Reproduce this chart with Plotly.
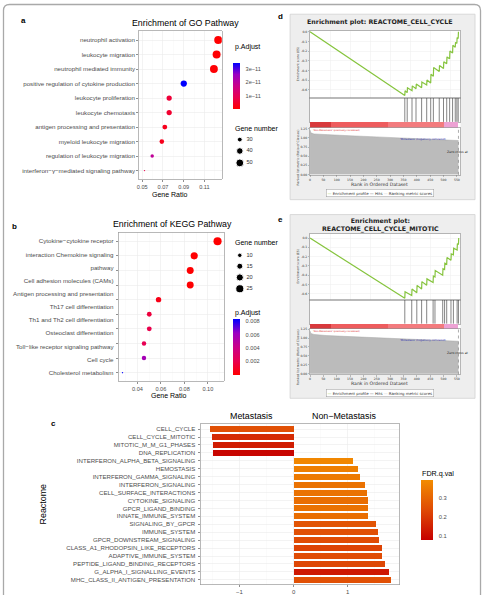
import numpy as np
import plotly.graph_objects as go

W, H = 484, 595
def fx(x): return x / W
def fy(y): return 1 - y / H

ARIAL = "Liberation Sans, Arial, sans-serif"
DJV = "DejaVu Sans, sans-serif"

# ---------------- Panel a : GO ----------------
go_terms = ["neutrophil activation", "leukocyte migration", "neutrophil mediated immunity",
            "positive regulation of cytokine production", "leukocyte proliferation",
            "leukocyte chemotaxis", "antigen processing and presentation",
            "myeloid leukocyte migration", "regulation of leukocyte migration",
            "interferon−γ−mediated signaling pathway"]
go_ratio = [0.1234, 0.1218, 0.1192, 0.0901, 0.0760, 0.0760, 0.0718, 0.0689, 0.0596, 0.0522]
go_count = [52, 51, 50, 38, 32, 32, 30, 29, 25, 22]
go_padj = [1e-13, 2e-13, 5e-13, 3.4e-11, 6e-12, 5e-12, 3e-12, 3e-12, 1.9e-11, 8e-12]
go_size_keys = [30, 40, 50]
go_padj_ticks = [1e-11, 2e-11, 3e-11]
go_padj_ticktext = ["1e−11", "2e−11", "3e−11"]
go_ratio_ticks = [0.05, 0.07, 0.09, 0.11]

# ---------------- Panel b : KEGG ----------------
kegg_terms = ["Cytokine-cytokine receptor interaction", "Chemokine signaling pathway",
              "Cell adhesion molecules (CAMs)", "Antigen processing and presentation",
              "Th17 cell differentiation", "Th1 and Th2 cell differentiation",
              "Osteoclast differentiation", "Toll-like receptor signaling pathway",
              "Cell cycle", "Cholesterol metabolism"]
kegg_labels = ["Cytokine−cytokine receptor", "interaction Chemokine signaling", "pathway",
               "Cell adhesion molecules (CAMs)", "Antigen processing and presentation",
               "Th17 cell differentiation", "Th1 and Th2 cell differentiation",
               "Osteoclast differentiation", "Toll−like receptor signaling pathway",
               "Cell cycle", "Cholesterol metabolism"]
kegg_ratio = [0.1083, 0.0884, 0.0850, 0.0850, 0.0580, 0.0501, 0.0501, 0.0456, 0.0456, 0.0273]
kegg_count = [25, 20, 19, 19, 13, 11, 11, 10, 10, 6]
kegg_padj = [2e-6, 4e-5, 5e-5, 6e-5, 6e-4, 1.6e-3, 2.0e-3, 2.2e-3, 5.8e-3, 8.4e-3]
kegg_size_keys = [10, 15, 20, 25]
kegg_padj_ticks = [0.002, 0.004, 0.006, 0.008]
kegg_ratio_ticks = [0.04, 0.06, 0.08, 0.10]

# ---------------- Panel c : Reactome GSEA ----------------
reactome_terms = ["CELL_CYCLE", "CELL_CYCLE_MITOTIC", "MITOTIC_M_M_G1_PHASES", "DNA_REPLICATION",
                  "INTERFERON_ALPHA_BETA_SIGNALING", "HEMOSTASIS", "INTERFERON_GAMMA_SIGNALING",
                  "INTERFERON_SIGNALING", "CELL_SURFACE_INTERACTIONS", "CYTOKINE_SIGNALING",
                  "GPCR_LIGAND_BINDING", "INNATE_IMMUNE_SYSTEM", "SIGNALING_BY_GPCR",
                  "IMMUNE_SYSTEM", "GPCR_DOWNSTREAM_SIGNALING", "CLASS_A1_RHODOPSIN_LIKE_RECEPTORS",
                  "ADAPTIVE_IMMUNE_SYSTEM", "PEPTIDE_LIGAND_BINDING_RECEPTORS",
                  "G_ALPHA_I_SIGNALLING_EVENTS", "MHC_CLASS_II_ANTIGEN_PRESENTATION"]
reactome_nes = [-1.54, -1.51, -1.49, -1.49, 1.09, 1.18, 1.23, 1.32, 1.35, 1.37,
                1.38, 1.38, 1.52, 1.55, 1.58, 1.64, 1.64, 1.68, 1.77, 1.79]
reactome_fdr = [0.25, 0.17, 0.14, 0.09, 0.38, 0.36, 0.35, 0.33, 0.33, 0.32,
                0.33, 0.32, 0.26, 0.25, 0.24, 0.22, 0.24, 0.23, 0.13, 0.25]
nes_ticks = [-1, 0, 1]
nes_ticktext = ["−1", "0", "1"]
fdr_ticks = [0.1, 0.2, 0.3]

# ---------------- Panel d : REACTOME_CELL_CYCLE enrichment plot ----------------
d_es_rank = [0, 355, 356, 364, 365, 382, 383, 397, 398, 418, 419, 437, 438, 452, 453, 462, 463,
             484, 485, 500, 501, 512, 513, 523, 524, 534, 535, 544, 545, 550, 551, 555, 556]
d_es = [0.0, -0.66, -0.61, -0.63, -0.58, -0.61, -0.56, -0.59, -0.54, -0.58, -0.52, -0.55, -0.50,
        -0.53, -0.44, -0.46, -0.37, -0.41, -0.35, -0.38, -0.31, -0.33, -0.26, -0.28, -0.20,
        -0.22, -0.14, -0.16, -0.11, -0.12, -0.06, -0.07, 0.0]
d_hits = [355, 364, 382, 397, 418, 437, 452, 462, 484, 500, 512, 523, 534, 544, 550, 555]
d_metric_rank = [0, 3, 15, 60, 150, 250, 350, 450, 520, 556]
d_metric = [1.22, 1.14, 1.11, 1.09, 1.06, 1.03, 1.00, 0.97, 0.95, 0.93]
d_seg_start = [0, 78, 292, 500]
d_seg_end = [78, 292, 500, 556]
d_zero_cross = 556

# ---------------- Panel e : REACTOME_CELL_CYCLE_MITOTIC enrichment plot ----------------
e_es_rank = [0, 355, 356, 381, 382, 400, 401, 418, 419, 437, 438, 461, 462, 468, 469, 497, 498,
             504, 505, 512, 513, 528, 529, 537, 538, 551, 552, 556, 557]
e_es = [0.0, -0.65, -0.58, -0.62, -0.55, -0.59, -0.51, -0.55, -0.47, -0.51, -0.44, -0.48, -0.41,
        -0.42, -0.35, -0.40, -0.33, -0.34, -0.27, -0.28, -0.21, -0.24, -0.17, -0.18, -0.11,
        -0.13, -0.06, -0.07, 0.0]
e_hits = [355, 381, 400, 418, 437, 461, 468, 497, 504, 512, 528, 537, 551, 556]
e_metric_rank = [0, 3, 15, 60, 150, 250, 350, 450, 520, 556]
e_metric = [1.20, 1.13, 1.10, 1.07, 1.04, 1.01, 0.98, 0.95, 0.93, 0.91]
e_seg_start = [0, 78, 292, 500]
e_seg_end = [78, 292, 500, 556]
e_zero_cross = 556

seg_colors = ["#D8393C", "#EE5C5E", "#F37B7E", "#EDA2D4"]
es_ticks = [0.0, -0.1, -0.2, -0.3, -0.4, -0.5, -0.6]
rank_ticks = list(range(0, 551, 50))
metric_ticks = [0.0, 0.25, 0.5, 0.75, 1.0, 1.25]

# ---------------- styles ----------------
PADJ_SCALE = [[0, "#FF0000"], [0.25, "#E80050"], [0.5, "#CA0089"], [0.75, "#9A00C3"], [1, "#0000FF"]]
FDR_SCALE = [[0, "#C60000"], [0.5, "#DF4A05"], [1, "#F28C00"]]
LAB = 6.2  # ggplot axis text size in px


def size_scale(vals, vmin, vmax):
    return [1.35 * (1 + 5 * np.sqrt((v - vmin) / (vmax - vmin))) for v in vals]


def gg_axis(**kw):
    d = dict(showline=True, mirror=True, linecolor="#9a9a9a", linewidth=0.7,
             ticks="outside", ticklen=2, tickwidth=0.6, tickcolor="#444",
             tickfont=dict(family=ARIAL, size=LAB, color="#4D4D4D"),
             showgrid=True, gridcolor="#EBEBEB", gridwidth=0.6, zeroline=False, fixedrange=True)
    d.update(kw)
    return d


fig = go.Figure()
layout = {}
annotations = []
shapes = []


def ann(text, x, y, size, family=ARIAL, color="#000", xanchor="center", yanchor="middle",
        textangle=0, **kw):
    a = dict(text=text, x=fx(x), y=fy(y), xref="paper", yref="paper", showarrow=False,
             font=dict(family=family, size=size, color=color), xanchor=xanchor,
             yanchor=yanchor, textangle=textangle)
    a.update(kw)
    annotations.append(a)


# ===== Panel a =====
go_sizes = size_scale(go_count, min(go_count), max(go_count))
fig.add_trace(go.Scatter(
    x=go_ratio, y=go_terms, xaxis="x", yaxis="y", mode="markers", hoverinfo="skip",
    showlegend=False,
    marker=dict(size=go_sizes, color=go_padj, colorscale=PADJ_SCALE, cmin=0, cmax=3.4e-11,
                opacity=1, line=dict(width=0),
                colorbar=dict(x=fx(232.3), xanchor="left", xpad=0, y=fy(85), yanchor="middle",
                              ypad=0, len=46.6 / H, lenmode="fraction", thickness=7,
                              thicknessmode="pixels", outlinewidth=0,
                              tickvals=go_padj_ticks, ticktext=go_padj_ticktext,
                              ticks="outside", ticklen=5, tickcolor="rgba(0,0,0,0)",
                              tickfont=dict(family=ARIAL, size=5.6, color="#4D4D4D")))))
layout["xaxis"] = gg_axis(domain=[fx(137.5), fx(220.7)], anchor="y", range=[0.0468, 0.1268],
                          tickvals=go_ratio_ticks, ticktext=[f"{v:.2f}" for v in go_ratio_ticks],
                          tickfont=dict(family=ARIAL, size=5.6, color="#4D4D4D"),
                          minor=dict(dtick=0.02, tick0=0.06, showgrid=True, gridcolor="#F4F4F4",
                                     gridwidth=0.4, ticks=""))
layout["yaxis"] = gg_axis(domain=[fy(178.5), fy(29.5)], anchor="x", type="category",
                          categoryorder="array", categoryarray=go_terms[::-1], range=[-0.6, 9.6])

# ===== Panel b =====
kegg_rows = list(range(len(kegg_terms) - 1, -1, -1))
kegg_label_pos = list(np.linspace(kegg_rows[0], kegg_rows[-1], len(kegg_labels)))
kegg_sizes = size_scale(kegg_count, min(kegg_count), max(kegg_count))
fig.add_trace(go.Scatter(
    x=kegg_ratio, y=kegg_rows, xaxis="x2", yaxis="y2", mode="markers", hoverinfo="skip",
    showlegend=False, text=kegg_terms,
    marker=dict(size=kegg_sizes, color=kegg_padj, colorscale=PADJ_SCALE, cmin=0, cmax=0.0084,
                opacity=1, line=dict(width=0),
                colorbar=dict(x=fx(232.3), xanchor="left", xpad=0, y=fy(347), yanchor="middle",
                              ypad=0, len=56 / H, lenmode="fraction", thickness=7,
                              thicknessmode="pixels", outlinewidth=0,
                              tickvals=kegg_padj_ticks,
                              ticktext=[f"{v:.3f}" for v in kegg_padj_ticks],
                              ticks="outside", ticklen=5, tickcolor="rgba(0,0,0,0)",
                              tickfont=dict(family=ARIAL, size=5.6, color="#4D4D4D")))))
fig.add_trace(go.Scatter(x=[kegg_ratio[0]] * len(kegg_labels), y=kegg_label_pos, xaxis="x2",
                         yaxis="y3", mode="markers", marker=dict(size=0.1, opacity=0),
                         hoverinfo="skip", showlegend=False))
layout["xaxis2"] = gg_axis(domain=[fx(117), fx(222.7)], anchor="y2", range=[0.0239, 0.1136],
                           tickvals=kegg_ratio_ticks,
                           ticktext=[f"{v:.2f}" for v in kegg_ratio_ticks],
                           tickfont=dict(family=ARIAL, size=5.6, color="#4D4D4D"),
                           minor=dict(dtick=0.02, tick0=0.03, showgrid=True, gridcolor="#F4F4F4",
                                      gridwidth=0.4, ticks=""))
layout["yaxis2"] = gg_axis(domain=[fy(382), fy(232)], anchor="x2", range=[-0.6, 9.6],
                           tickvals=kegg_rows, ticktext=[""] * len(kegg_rows))
layout["yaxis3"] = dict(overlaying="y2", anchor="x2", side="left", range=[-0.6, 9.6],
                        tickvals=kegg_label_pos, ticktext=kegg_labels, ticks="",
                        showline=False, showgrid=False, zeroline=False, ticklabelstandoff=4,
                        tickfont=dict(family=ARIAL, size=LAB, color="#4D4D4D"), fixedrange=True)

# ===== Panel c =====
fig.add_trace(go.Bar(
    x=reactome_nes, y=reactome_terms, orientation="h", xaxis="x4", yaxis="y4", width=0.76,
    hoverinfo="skip", showlegend=False,
    marker=dict(color=reactome_fdr, colorscale=FDR_SCALE, cmin=0.079, cmax=0.392,
                line=dict(width=0),
                colorbar=dict(x=fx(420.7), xanchor="left", xpad=0, y=fy(511.7), yanchor="middle",
                              ypad=0, len=60 / H, lenmode="fraction", thickness=11.6,
                              thicknessmode="pixels", outlinewidth=0,
                              tickvals=fdr_ticks, ticktext=[f"{v:.1f}" for v in fdr_ticks],
                              ticks="outside", ticklen=5, tickcolor="rgba(0,0,0,0)",
                              tickfont=dict(family=ARIAL, size=5.8, color="#4D4D4D")))))
layout["xaxis4"] = gg_axis(domain=[fx(200), fx(399)], anchor="y4", range=[-1.706, 1.952],
                           tickvals=nes_ticks, ticktext=nes_ticktext,
                           tickfont=dict(family=ARIAL, size=6.0, color="#4D4D4D"),
                           minor=dict(dtick=1, tick0=-1.5, showgrid=True, gridcolor="#F4F4F4",
                                      gridwidth=0.4, ticks=""))
layout["yaxis4"] = gg_axis(domain=[fy(586.5), fy(425.2)], anchor="x4", type="category",
                           categoryorder="array", categoryarray=reactome_terms[::-1],
                           range=[-0.6, 19.6], ticklabelstandoff=2,
                           tickfont=dict(family=ARIAL, size=6.1, color="#4D4D4D"))


# ===== Panels d / e =====
def gsea(ids, geo, es_rank, es, hits, met_rank, met, seg_s, seg_e, zc):
    es_i, hit_i, bar_i, met_i = ids
    xdom = [fx(geo["x0"]), fx(geo["x1"])]
    base = dict(domain=xdom, range=[0, geo["xmax"]], zeroline=False, fixedrange=True,
                showline=True, mirror=True, linecolor="#8a8a8a", linewidth=0.6)
    tf = dict(family=DJV, size=3.1, color="#333")
    # ES
    fig.add_trace(go.Scatter(x=es_rank, y=es, xaxis=f"x{es_i}", yaxis=f"y{es_i}", mode="lines",
                             line=dict(color="#86C43E", width=1.2), hoverinfo="skip",
                             showlegend=False))
    layout[f"xaxis{es_i}"] = dict(base, anchor=f"y{es_i}", showticklabels=False, ticks="",
                                  showgrid=True, gridcolor="#EDEDED", gridwidth=0.5, dtick=75)
    layout[f"yaxis{es_i}"] = dict(base, domain=[fy(geo["es"][1]), fy(geo["es"][0])],
                                  anchor=f"x{es_i}", range=geo["es_range"], tickvals=es_ticks,
                                  ticktext=[f"{v:.1f}" for v in es_ticks], tickfont=tf,
                                  ticks="outside", ticklen=1.5, tickwidth=0.4, tickcolor="#666",
                                  showgrid=True, gridcolor="#EDEDED", gridwidth=0.5)
    # Hits
    hx, hy = [], []
    for h in hits:
        hx += [h, h, None]
        hy += [0, 1, None]
    fig.add_trace(go.Scatter(x=hx, y=hy, xaxis=f"x{hit_i}", yaxis=f"y{hit_i}", mode="lines",
                             line=dict(color="#333", width=0.6), hoverinfo="skip",
                             showlegend=False))
    layout[f"xaxis{hit_i}"] = dict(base, anchor=f"y{hit_i}", showticklabels=False, ticks="",
                                   showgrid=False)
    layout[f"yaxis{hit_i}"] = dict(base, domain=[fy(geo["hit"][1]), fy(geo["hit"][0])],
                                   anchor=f"x{hit_i}", range=[0, 1], showticklabels=False,
                                   ticks="", showgrid=False)
    # Ranked list colour bar
    fig.add_trace(go.Bar(x=[b - a for a, b in zip(seg_s, seg_e)], base=seg_s,
                         y=[0.5] * len(seg_s), orientation="h", width=1,
                         marker=dict(color=seg_colors, line=dict(width=0)),
                         xaxis=f"x{bar_i}", yaxis=f"y{bar_i}", hoverinfo="skip",
                         showlegend=False))
    layout[f"xaxis{bar_i}"] = dict(base, anchor=f"y{bar_i}", showticklabels=False, ticks="",
                                   showgrid=False, showline=False)
    layout[f"yaxis{bar_i}"] = dict(base, domain=[fy(geo["bar"][1]), fy(geo["bar"][0])],
                                   anchor=f"x{bar_i}", range=[0, 1], showticklabels=False,
                                   ticks="", showgrid=False, showline=False)
    # Ranking metric
    fig.add_trace(go.Scatter(x=met_rank, y=met, xaxis=f"x{met_i}", yaxis=f"y{met_i}",
                             mode="lines", fill="tozeroy", fillcolor="#BBBBBB",
                             line=dict(color="#A8A8A8", width=0.5), hoverinfo="skip",
                             showlegend=False))
    layout[f"xaxis{met_i}"] = dict(base, anchor=f"y{met_i}", tickvals=rank_ticks,
                                   ticktext=[str(v) for v in rank_ticks], tickfont=tf,
                                   ticks="outside", ticklen=1.5, tickwidth=0.4,
                                   tickcolor="#666", showgrid=False)
    layout[f"yaxis{met_i}"] = dict(base, domain=[fy(geo["met"][1]), fy(geo["met"][0])],
                                   anchor=f"x{met_i}", range=geo["met_range"],
                                   tickvals=metric_ticks,
                                   ticktext=[f"{v:.2f}" for v in metric_ticks], tickfont=tf,
                                   ticks="outside", ticklen=1.5, tickwidth=0.4,
                                   tickcolor="#666", showgrid=False)
    shapes.append(dict(type="line", xref=f"x{met_i}", yref=f"y{met_i} domain", x0=zc, x1=zc,
                       y0=0, y1=1, line=dict(color="#777", width=0.6, dash="dot")))
    # frames
    shapes.insert(0, dict(type="rect", xref="paper", yref="paper", layer="below",
                          x0=fx(geo["x0"]), x1=fx(geo["x1"]), y0=fy(geo["met"][1]),
                          y1=fy(geo["es"][0]), fillcolor="white", line=dict(width=0)))
    shapes.insert(0, dict(type="rect", xref="paper", yref="paper", layer="below",
                          x0=fx(289.3), x1=fx(475), y0=fy(geo["frame"][1]),
                          y1=fy(geo["frame"][0]), fillcolor="#EEEEEE",
                          line=dict(color="#D2D2D2", width=0.8)))
    # texts
    ann("<b>%s</b>" % geo["title"], 380, geo["title_y"], 6.3, family=DJV, color="#222")
    ann("Enrichment score (ES)", 296.8, (geo["es"][0] + geo["es"][1]) / 2, 3.1, family=DJV,
        color="#333", textangle=-90)
    ann("Ranked list metric (Ratio of Classes)", 296.8, geo["met_lab_y"], 3.1, family=DJV,
        color="#333", textangle=-90)
    ann("Rank in Ordered Dataset", 379, geo["met"][1] + 9.5, 4.6, family=DJV, color="#333")
    ann("'Non-Metastasis' (positively correlated)", 310.5, geo["met"][0] + 2.8, 2.4,
        family=DJV, color="#E03030", xanchor="left")
    ann("'Metastasis' (negatively correlated)", 398, geo["met"][0] + 11.8, 2.6, family=DJV,
        color="#3030B0", xanchor="left")
    ann("Zero cross at", 445, geo["met"][0] + 24, 3.2, family=DJV, color="#222",
        xanchor="left")
    ann("<span style='color:#84C440'>—</span> Enrichment profile — Hits "
        "<span style='color:#BBBBBB'>—</span> Ranking metric scores",
        380, geo["met"][1] + 18.7, 3.9, family=DJV, color="#333", bgcolor="white",
        bordercolor="#9A9A9A", borderwidth=0.5, borderpad=1)


geo_d = dict(x0=309.3, x1=460.5, xmax=564, es=(29.3, 96.7), hit=(96.7, 120.7),
             bar=(120.7, 126.7), met=(126.7, 174.0), es_range=[-0.686, 0.007],
             met_range=[-0.008, 1.277], frame=(12.3, 199), title="Enrichment plot: REACTOME_CELL_CYCLE",
             title_y=20.5, met_lab_y=157)
geo_e = dict(x0=309.3, x1=460.5, xmax=564, es=(233.3, 300), hit=(300, 324),
             bar=(324, 329.3), met=(329.3, 375.0), es_range=[-0.668, 0.047],
             met_range=[-0.02, 1.25], frame=(214, 399),
             title="Enrichment plot:<br>REACTOME_CELL_CYCLE_MITOTIC", title_y=224.7,
             met_lab_y=358)
gsea((5, 6, 7, 8), geo_d, d_es_rank, d_es, d_hits, d_metric_rank, d_metric,
     d_seg_start, d_seg_end, d_zero_cross)
gsea((9, 10, 11, 12), geo_e, e_es_rank, e_es, e_hits, e_metric_rank, e_metric,
     e_seg_start, e_seg_end, e_zero_cross)

# ===== size legends (overlay axis in pixel units) =====
layout["xaxis20"] = dict(domain=[0, 1], range=[0, W], visible=False, anchor="y20", fixedrange=True)
layout["yaxis20"] = dict(domain=[0, 1], range=[H, 0], visible=False, anchor="x20", fixedrange=True)
go_key_y = [138.5, 150, 162]
kegg_key_y = [255, 266, 277.3, 288.7]
fig.add_trace(go.Scatter(
    x=[238.8] * len(go_size_keys), y=go_key_y, xaxis="x20", yaxis="y20", mode="markers",
    marker=dict(size=size_scale(go_size_keys, min(go_count), max(go_count)), color="black",
                opacity=1),
    hoverinfo="skip", showlegend=False))
fig.add_trace(go.Scatter(
    x=[245.5] * len(go_size_keys), y=go_key_y, xaxis="x20", yaxis="y20", mode="text",
    text=[str(v) for v in go_size_keys], textposition="middle right",
    textfont=dict(family=ARIAL, size=5.6, color="#333"), hoverinfo="skip", showlegend=False))
fig.add_trace(go.Scatter(
    x=[238.8] * len(kegg_size_keys), y=kegg_key_y, xaxis="x20", yaxis="y20", mode="markers",
    marker=dict(size=size_scale(kegg_size_keys, min(kegg_count), max(kegg_count)),
                color="black", opacity=1),
    hoverinfo="skip", showlegend=False))
fig.add_trace(go.Scatter(
    x=[245.5] * len(kegg_size_keys), y=kegg_key_y, xaxis="x20", yaxis="y20", mode="text",
    text=[str(v) for v in kegg_size_keys], textposition="middle right",
    textfont=dict(family=ARIAL, size=5.6, color="#333"), hoverinfo="skip", showlegend=False))

# ===== text annotations =====
ann("<b>a</b>", 22, 19, 8)
ann("<b>b</b>", 13, 226, 8)
ann("<b>c</b>", 52, 424, 8)
ann("<b>d</b>", 280, 15, 8)
ann("<b>e</b>", 280, 219, 8)
ann("Enrichment of GO Pathway", 184, 21, 8.8)
ann("Enrichment of KEGG Pathway", 171, 223, 8.8)
ann("Gene Ratio", 169, 193.5, 7)
ann("Gene Ratio", 168, 396, 7)
ann("p.Adjust", 231.5, 45, 7, xanchor="left")
ann("Gene number", 231.5, 127, 7, xanchor="left")
ann("Gene number", 231.5, 242, 7, xanchor="left")
ann("p.Adjust", 231.5, 313, 7, xanchor="left")
ann("Metastasis", 251, 416.7, 8.9)
ann("Non−Metastasis", 343, 416.7, 8.9)
ann("Reactome", 41, 505, 8.9, textangle=-90)
ann("FDR.q.val", 420.2, 474.3, 7.2, xanchor="left")

# outer rounded frame
r = 6
x0, x1, yt, yb = 1.5, 480.5, 2.5, 620
path = (f"M {fx(x0)},{fy(yb)} L {fx(x0)},{fy(yt + r)} Q {fx(x0)},{fy(yt)} {fx(x0 + r)},{fy(yt)} "
        f"L {fx(x1 - r)},{fy(yt)} Q {fx(x1)},{fy(yt)} {fx(x1)},{fy(yt + r)} L {fx(x1)},{fy(yb)}")
shapes.append(dict(type="path", path=path, xref="paper", yref="paper",
                   line=dict(color="#A9A9A9", width=1.3)))

fig.update_layout(width=W, height=H, autosize=False, margin=dict(l=0, r=0, t=0, b=0),
                  paper_bgcolor="white", plot_bgcolor="rgba(0,0,0,0)", showlegend=False,
                  annotations=annotations, shapes=shapes, bargap=0, **layout)

fig.write_html("out.html", include_plotlyjs=True,
               config={"displayModeBar": False, "staticPlot": True},
               post_script="document.body.style.margin='0';")
